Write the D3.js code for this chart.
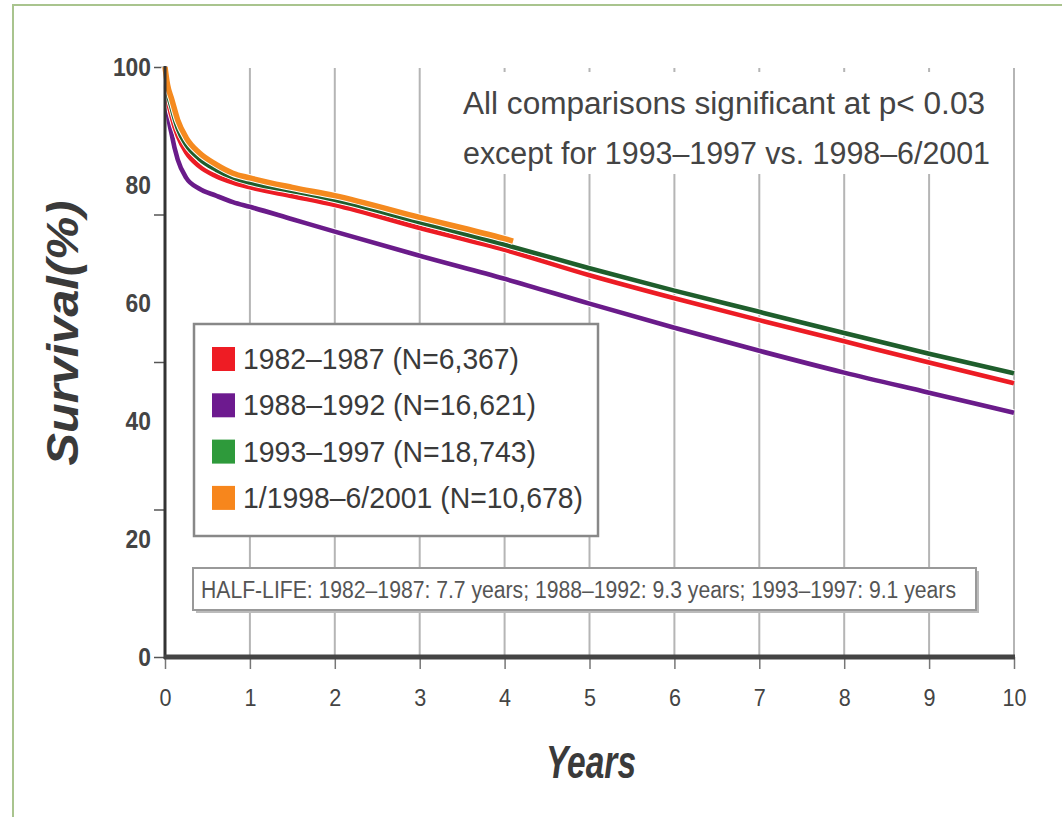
<!DOCTYPE html>
<meta charset="utf-8" />
<script src="https://d3js.org/d3.v7.min.js"></script>
<style>
  body { margin: 0; background: white; }
  text { font-family: "Liberation Sans", Arial, Helvetica, sans-serif; }
</style>
<body>
<svg id="chart" width="1062" height="817"></svg>
<script>
  // data
  const years = [0, 0.03, 0.08, 0.15, 0.25, 0.4, 0.6, 0.8, 1, 1.5, 2, 3, 4, 5, 6, 7, 8, 9, 10];
  const red82 = [100, 95, 91.5, 88.3, 85.5, 83.2, 81.5, 80.4, 79.6, 78.1, 76.6, 72.7, 69, 64.7, 60.8, 57.1, 53.5, 49.9, 46.4];
  const purple88 = [100, 93, 88.5, 84.3, 81.2, 79.4, 78.2, 77.1, 76.3, 74.2, 72.1, 68, 64.1, 59.9, 55.8, 51.9, 48.2, 44.8, 41.4];
  const green93 = [100, 96, 93, 89.6, 86.8, 84.5, 82.6, 81.3, 80.4, 79, 77.5, 73.7, 69.9, 65.9, 62.1, 58.5, 54.9, 51.4, 48.1];
  const orangeYears = [0, 0.03, 0.08, 0.15, 0.25, 0.4, 0.6, 0.8, 1, 1.5, 2, 3, 4, 4.1];
  const orange98 = [100, 97, 94.5, 91, 88, 85.5, 83.5, 82, 81.2, 79.6, 78.2, 74.5, 70.9, 70.5];

  const seriesNames = ["1982\u20131987 (N=6,367)", "1988\u20131992 (N=16,621)", "1993\u20131997 (N=18,743)", "1/1998\u20136/2001 (N=10,678)"];
  const lineColors = ["#ec1c24", "#6a1b8a", "#1f5e2c", "#f58a1f"];
  const swatchColors = ["#ee1c24", "#6d1a8f", "#2e9a3b", "#f7861c"];

  const xTicks = [0, 1, 2, 3, 4, 5, 6, 7, 8, 9, 10];
  const yTickMarks = [0, 25, 50, 75, 100];
  const yLabels = [0, 20, 40, 60, 80, 100];

  const note1 = "All comparisons significant at p< 0.03";
  const note2 = "except for 1993\u20131997 vs. 1998\u20136/2001";
  const halfLife = "HALF-LIFE: 1982\u20131987: 7.7 years; 1988\u20131992: 9.3 years; 1993\u20131997: 9.1 years";

  const svg = d3.select("#chart");

  // frame
  svg.append("path").attr("d", "M13,817V5H1062").attr("fill", "none")
    .attr("stroke", "#a9c48e").attr("stroke-width", 2);

  const x = d3.scaleLinear().domain([0, 10]).range([165, 1014]);
  const y = d3.scaleLinear().domain([0, 100]).range([657, 67]);

  // vertical grid
  svg.append("g").selectAll("line").data(xTicks.slice(1)).enter().append("line")
    .attr("x1", d => x(d)).attr("x2", d => x(d))
    .attr("y1", 68).attr("y2", 657)
    .attr("stroke", "#b5b5b5").attr("stroke-width", 2);

  // white block behind the note
  svg.append("rect").attr("x", 452).attr("y", 72).attr("width", 550).attr("height", 102).attr("fill", "white");

  svg.append("text").attr("x", 463).attr("y", 114).attr("font-size", 31).attr("fill", "#444")
    .attr("textLength", 522).attr("lengthAdjust", "spacingAndGlyphs").text(note1);
  svg.append("text").attr("x", 463).attr("y", 164).attr("font-size", 31).attr("fill", "#444")
    .attr("textLength", 527).attr("lengthAdjust", "spacingAndGlyphs").text(note2);

  // x axis
  const xAxis = svg.append("g").attr("transform", "translate(0,657)")
    .call(d3.axisBottom(x).tickValues(xTicks).tickSize(12).tickPadding(20).tickFormat(d3.format("d")));
  xAxis.select(".domain").remove();
  xAxis.selectAll(".tick line").attr("stroke", "#777").attr("stroke-width", 1.5);
  xAxis.selectAll(".tick text").attr("font-size", 24).attr("fill", "#444")
    .attr("font-family", "'Liberation Sans', Arial, sans-serif")
    .attr("textLength", d => d === 10 ? 24 : 12).attr("lengthAdjust", "spacingAndGlyphs");

  // y axis tick marks
  const yAxis = svg.append("g").attr("transform", "translate(165,0)")
    .call(d3.axisLeft(y).tickValues(yTickMarks).tickSize(11).tickFormat(""));
  yAxis.select(".domain").remove();
  yAxis.selectAll(".tick line").attr("stroke", "#555").attr("stroke-width", 1.5);

  // y labels (spaced differently from the marks, as in the source)
  svg.append("g").selectAll("text").data(yLabels).enter().append("text")
    .attr("x", 151).attr("y", d => y(d) + 9)
    .attr("text-anchor", "end").attr("font-size", 25).attr("font-weight", "bold").attr("fill", "#444")
    .attr("textLength", d => String(d).length * 12.7).attr("lengthAdjust", "spacingAndGlyphs")
    .text(d => d);

  // curves
  const line = d3.line().x(d => x(d[0])).y(d => y(d[1])).curve(d3.curveMonotoneX);
  const curves = [
    d3.zip(years, red82),
    d3.zip(years, purple88),
    d3.zip(years, green93),
    d3.zip(orangeYears, orange98)
  ];
  const drawOrder = [1, 0, 2, 3];
  const gLines = svg.append("g");
  drawOrder.forEach(i => {
    gLines.append("path").attr("d", line(curves[i])).attr("fill", "none")
      .attr("stroke", "white").attr("stroke-width", i === 3 ? 7.5 : 6.5);
    gLines.append("path").attr("d", line(curves[i])).attr("fill", "none")
      .attr("stroke", lineColors[i]).attr("stroke-width", i === 3 ? 5.5 : 4.6)
      .attr("stroke-linejoin", "round");
  });

  // axis lines
  svg.append("line").attr("x1", 165).attr("x2", 165).attr("y1", 66).attr("y2", 659)
    .attr("stroke", "#333").attr("stroke-width", 3);
  svg.append("line").attr("x1", 164).attr("x2", 1015).attr("y1", 657).attr("y2", 657)
    .attr("stroke", "#444").attr("stroke-width", 5);

  // legend
  const legend = svg.append("g");
  legend.append("rect").attr("x", 194).attr("y", 324).attr("width", 404).attr("height", 212)
    .attr("fill", "white").attr("stroke", "#888").attr("stroke-width", 2.5);
  seriesNames.forEach((name, i) => {
    const cy = 359 + i * 46.3;
    legend.append("rect").attr("x", 212).attr("y", cy - 12).attr("width", 23).attr("height", 24)
      .attr("fill", swatchColors[i]);
    legend.append("text").attr("x", 243).attr("y", cy + 10).attr("font-size", 29).attr("fill", "#3a3a3a")
      .attr("textLength", [276, 293, 293, 340][i]).attr("lengthAdjust", "spacingAndGlyphs")
      .text(name);
  });

  // half-life box
  svg.append("rect").attr("x", 196).attr("y", 571).attr("width", 783).attr("height", 42).attr("fill", "#bbb");
  svg.append("rect").attr("x", 193).attr("y", 568).attr("width", 783).attr("height", 42)
    .attr("fill", "white").attr("stroke", "#999").attr("stroke-width", 2);
  svg.append("text").attr("x", 201).attr("y", 598).attr("font-size", 23).attr("fill", "#555")
    .attr("textLength", 755).attr("lengthAdjust", "spacingAndGlyphs").text(halfLife);

  // axis titles
  svg.append("text").attr("transform", "translate(78,333) rotate(-90)")
    .attr("text-anchor", "middle").attr("font-size", 44).attr("font-weight", "bold").attr("font-style", "italic")
    .attr("fill", "#3a3a3a").attr("textLength", 265).attr("lengthAdjust", "spacingAndGlyphs")
    .text("Survival(%)");
  svg.append("text").attr("x", 591).attr("y", 778)
    .attr("text-anchor", "middle").attr("font-size", 46).attr("font-weight", "bold").attr("font-style", "italic")
    .attr("fill", "#3a3a3a").attr("textLength", 90).attr("lengthAdjust", "spacingAndGlyphs")
    .text("Years");
</script>
</body>
